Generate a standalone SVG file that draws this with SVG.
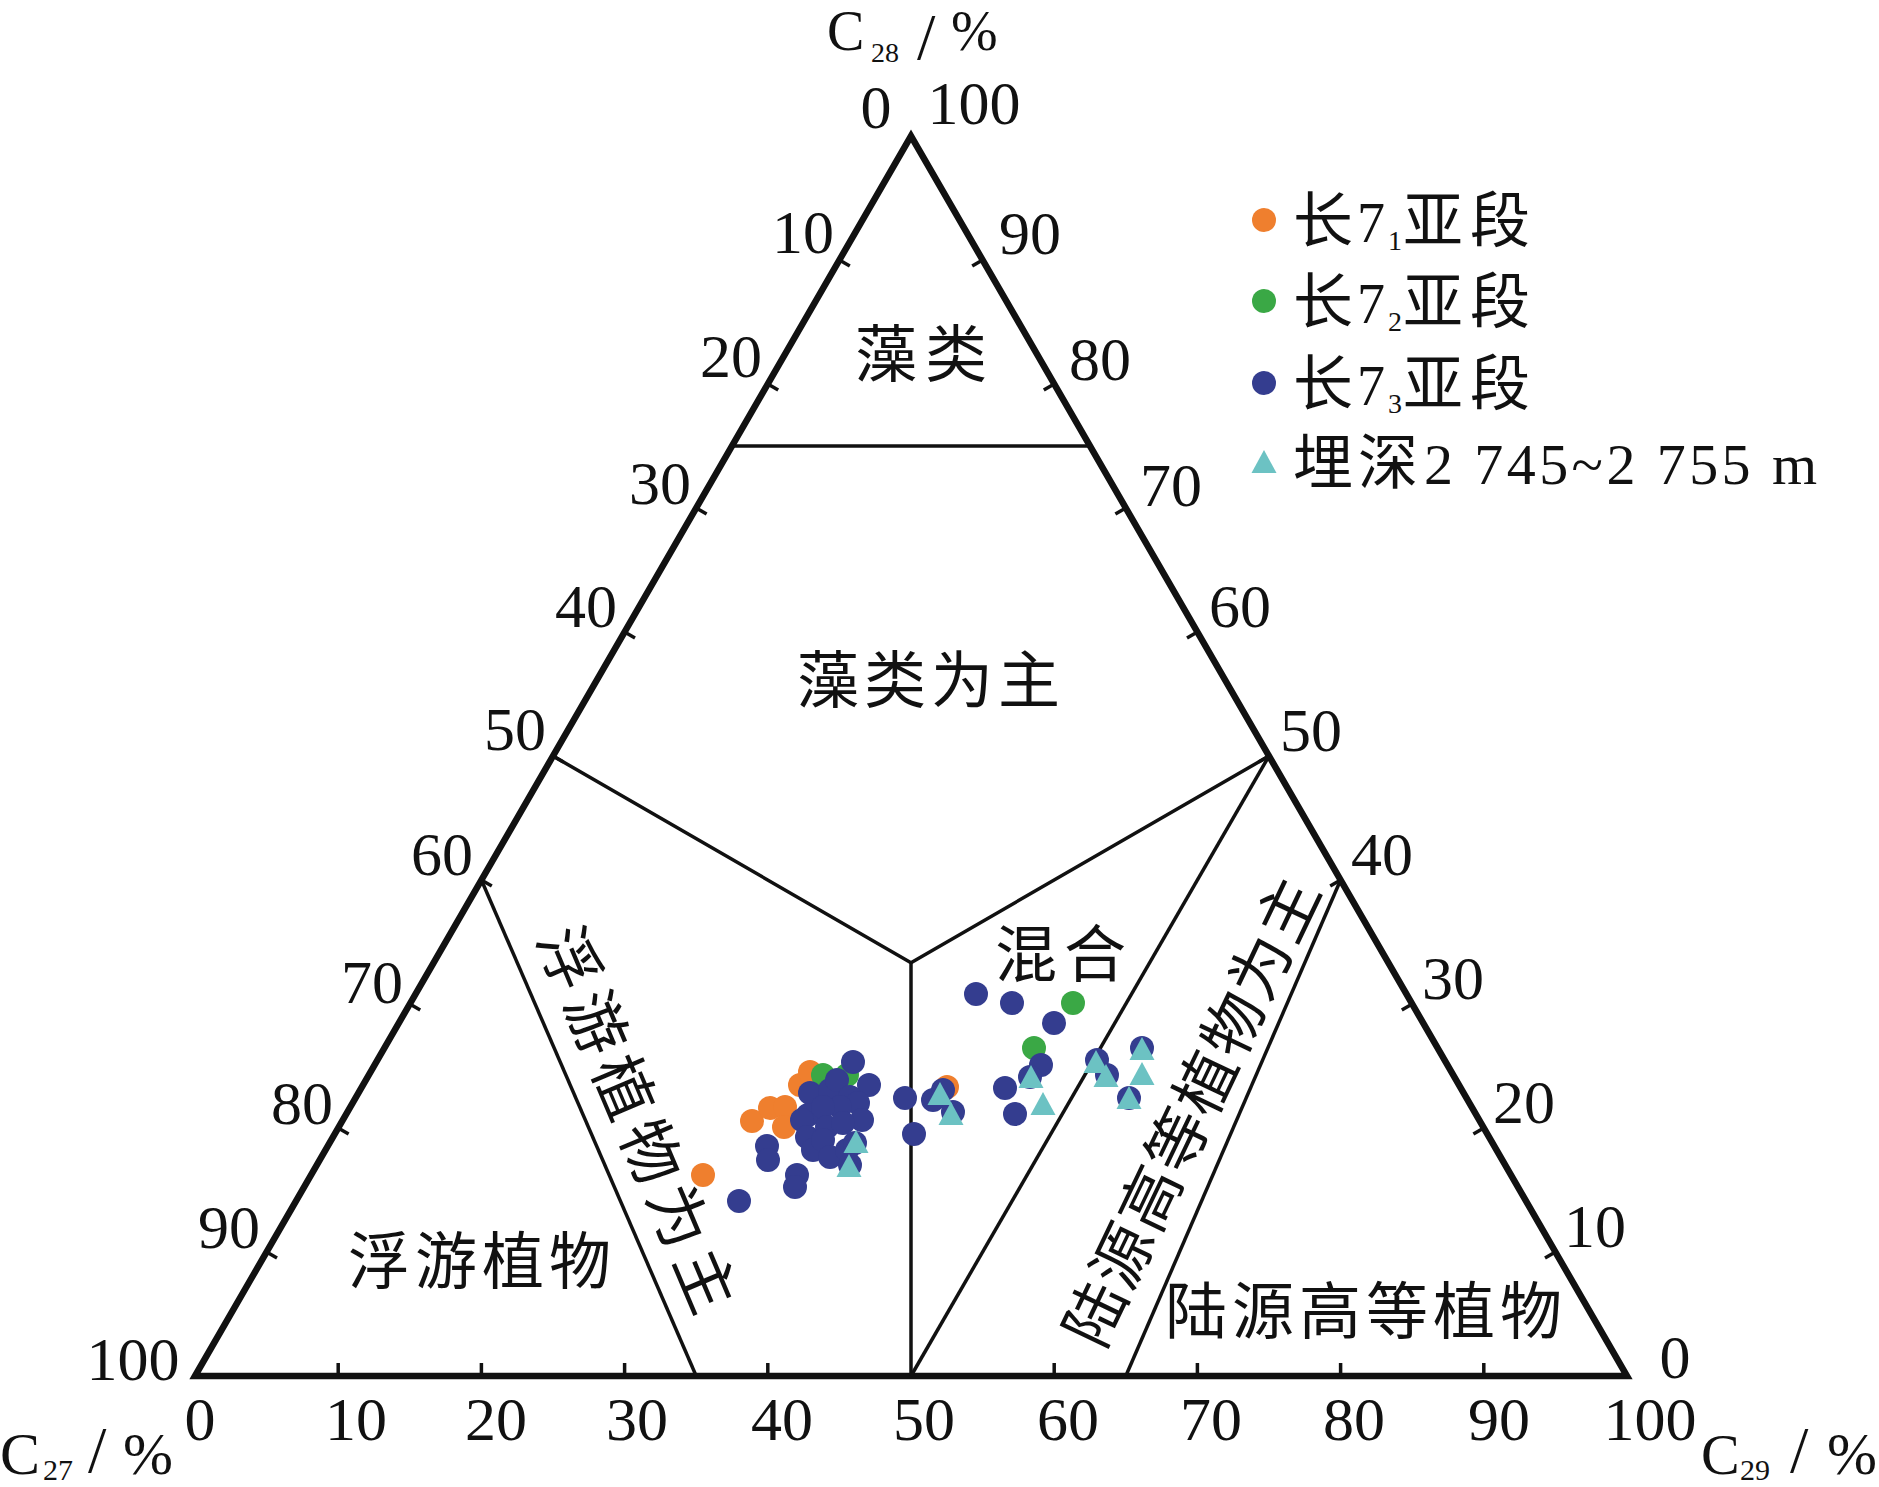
<svg xmlns="http://www.w3.org/2000/svg" width="1879" height="1487" viewBox="0 0 1879 1487">
<style>
.bg{fill:#ffffff}
.outer{fill:none;stroke:#111;stroke-width:6.5;stroke-linejoin:miter}
.inner{fill:none;stroke:#111;stroke-width:3.5}
.tick{stroke:#111;stroke-width:3.5}
.num{font-family:"Liberation Serif","Times New Roman",serif;font-size:62px;fill:#111;text-anchor:middle}
.ser{font-family:"Liberation Serif","Times New Roman",serif;fill:#111}
.cn{font-family:"Liberation Serif","Noto Sans CJK SC",sans-serif;font-size:62px;fill:#111;text-anchor:middle;dominant-baseline:central}
.cnl{font-family:"Liberation Serif","Noto Sans CJK SC",sans-serif;font-size:60px;fill:#111}
.o{fill:#ef7f2e}
.g{fill:#3aa845}
.b{fill:#343d8f}
.c{fill:#6cc2c3}
</style>
<defs>
<path id="tri" d="M0,-13 L12.5,10 L-12.5,10 Z"/>
</defs>
<rect class="bg" x="0" y="0" width="1879" height="1487"/>

<g id="frame">
<path class="outer" d="M195,1376 L911,136 L1627,1376 Z"/>
<g id="ticks">
<line class="tick" x1="839.4" y1="260" x2="849.8" y2="266"/>
<line class="tick" x1="767.8" y1="384" x2="778.2" y2="390"/>
<line class="tick" x1="696.2" y1="508" x2="706.6" y2="514"/>
<line class="tick" x1="624.6" y1="632" x2="635" y2="638"/>
<line class="tick" x1="553" y1="756" x2="563.4" y2="762"/>
<line class="tick" x1="481.4" y1="880" x2="491.8" y2="886"/>
<line class="tick" x1="409.8" y1="1004" x2="420.2" y2="1010"/>
<line class="tick" x1="338.2" y1="1128" x2="348.6" y2="1134"/>
<line class="tick" x1="266.6" y1="1252" x2="277" y2="1258"/>
<line class="tick" x1="982.6" y1="260" x2="972.2" y2="266"/>
<line class="tick" x1="1054.2" y1="384" x2="1043.8" y2="390"/>
<line class="tick" x1="1125.8" y1="508" x2="1115.4" y2="514"/>
<line class="tick" x1="1197.4" y1="632" x2="1187" y2="638"/>
<line class="tick" x1="1269" y1="756" x2="1258.6" y2="762"/>
<line class="tick" x1="1340.6" y1="880" x2="1330.2" y2="886"/>
<line class="tick" x1="1412.2" y1="1004" x2="1401.8" y2="1010"/>
<line class="tick" x1="1483.8" y1="1128" x2="1473.4" y2="1134"/>
<line class="tick" x1="1555.4" y1="1252" x2="1545" y2="1258"/>
<line class="tick" x1="338.2" y1="1376" x2="338.2" y2="1363"/>
<line class="tick" x1="481.4" y1="1376" x2="481.4" y2="1363"/>
<line class="tick" x1="624.6" y1="1376" x2="624.6" y2="1363"/>
<line class="tick" x1="767.8" y1="1376" x2="767.8" y2="1363"/>
<line class="tick" x1="1054.2" y1="1376" x2="1054.2" y2="1363"/>
<line class="tick" x1="1197.4" y1="1376" x2="1197.4" y2="1363"/>
<line class="tick" x1="1340.6" y1="1376" x2="1340.6" y2="1363"/>
<line class="tick" x1="1483.8" y1="1376" x2="1483.8" y2="1363"/>
</g>
</g>

<g id="connectors">
<line class="inner" x1="732" y1="446" x2="1090" y2="446"/>
<polyline class="inner" points="553,756 911,962.7 1269,756"/>
<line class="inner" x1="911" y1="962.7" x2="911" y2="1376"/>
<line class="inner" x1="481.4" y1="880" x2="696.2" y2="1376"/>
<line class="inner" x1="911" y1="1376" x2="1269" y2="756"/>
<line class="inner" x1="1340.6" y1="880" x2="1125.8" y2="1376"/>
</g>

<g id="left-axis-labels">
<text class="num" x="876" y="128">0</text>
<text class="num" x="803" y="253">10</text>
<text class="num" x="731" y="377">20</text>
<text class="num" x="660" y="504">30</text>
<text class="num" x="586" y="627">40</text>
<text class="num" x="515" y="750">50</text>
<text class="num" x="442" y="875">60</text>
<text class="num" x="372" y="1003">70</text>
<text class="num" x="302" y="1124">80</text>
<text class="num" x="229" y="1248">90</text>
<text class="num" x="133" y="1380">100</text>
</g>
<g id="right-axis-labels">
<text class="num" x="974" y="124">100</text>
<text class="num" x="1030" y="254">90</text>
<text class="num" x="1100" y="380">80</text>
<text class="num" x="1171" y="506">70</text>
<text class="num" x="1240" y="627">60</text>
<text class="num" x="1311" y="751">50</text>
<text class="num" x="1382" y="875">40</text>
<text class="num" x="1453" y="999">30</text>
<text class="num" x="1524" y="1123">20</text>
<text class="num" x="1595" y="1247">10</text>
<text class="num" x="1675" y="1378">0</text>
</g>
<g id="bottom-axis-labels">
<text class="num" x="200" y="1440">0</text>
<text class="num" x="356" y="1440">10</text>
<text class="num" x="496" y="1440">20</text>
<text class="num" x="637" y="1440">30</text>
<text class="num" x="782" y="1440">40</text>
<text class="num" x="924" y="1440">50</text>
<text class="num" x="1068" y="1440">60</text>
<text class="num" x="1211" y="1440">70</text>
<text class="num" x="1354" y="1440">80</text>
<text class="num" x="1499" y="1440">90</text>
<text class="num" x="1650" y="1440">100</text>
</g>

<g id="title-c28">
<text class="ser" x="827" y="50" font-size="56">C</text>
<text class="ser" x="871" y="62" font-size="28">28</text>
<text class="ser" x="917" y="59" font-size="66">/</text>
<text class="ser" x="951" y="50" font-size="56">%</text>
</g>
<g id="title-c27">
<text class="ser" x="0" y="1474" font-size="60">C</text>
<text class="ser" x="43" y="1480" font-size="30">27</text>
<text class="ser" x="88" y="1472" font-size="66">/</text>
<text class="ser" x="123" y="1474" font-size="60">%</text>
</g>
<g id="title-c29">
<text class="ser" x="1701" y="1474" font-size="58">C</text>
<text class="ser" x="1740" y="1480" font-size="30">29</text>
<text class="ser" x="1790" y="1472" font-size="66">/</text>
<text class="ser" x="1827" y="1474" font-size="60">%</text>
</g>

<g id="region-algae"><text class="cn" x="925" y="356" letter-spacing="8">藻类</text></g>
<g id="region-algae-dominant"><text class="cn" x="931" y="682" letter-spacing="5">藻类为主</text></g>
<g id="region-mixed"><text class="cn" x="1064" y="956" letter-spacing="7">混合</text></g>
<g id="region-plankton"><text class="cn" x="482" y="1263" letter-spacing="5">浮游植物</text></g>
<g id="region-terrestrial"><text class="cn" x="1366" y="1313" letter-spacing="5">陆源高等植物</text></g>
<g id="region-plankton-dominant"><text class="cn" x="4" y="0" letter-spacing="8" transform="translate(636,1120) rotate(67)">浮游植物为主</text></g>
<g id="region-terrestrial-dominant"><text class="cn" x="1" y="0" letter-spacing="2" transform="translate(1193,1112) rotate(-64.5)">陆源高等植物为主</text></g>

<g id="data-orange">
<circle class="o" cx="703" cy="1175" r="12"/>
<circle class="o" cx="752" cy="1121" r="12"/>
<circle class="o" cx="770" cy="1108" r="12"/>
<circle class="o" cx="785" cy="1107" r="12"/>
<circle class="o" cx="784" cy="1127" r="12"/>
<circle class="o" cx="800" cy="1085" r="12"/>
<circle class="o" cx="810" cy="1072" r="12"/>
<circle class="o" cx="947" cy="1087" r="12"/>
</g>
<g id="data-green">
<circle class="g" cx="823" cy="1075" r="12"/>
<circle class="g" cx="847" cy="1075" r="12"/>
<circle class="g" cx="1034" cy="1048" r="12"/>
<circle class="g" cx="1073" cy="1003" r="12"/>
</g>
<g id="data-blue">
<circle class="b" cx="739" cy="1201" r="12"/>
<circle class="b" cx="767" cy="1146" r="12"/>
<circle class="b" cx="768" cy="1160" r="12"/>
<circle class="b" cx="797" cy="1175" r="12"/>
<circle class="b" cx="795" cy="1187" r="12"/>
<circle class="b" cx="853" cy="1062" r="12"/>
<circle class="b" cx="869" cy="1085" r="12"/>
<circle class="b" cx="905" cy="1098" r="12"/>
<circle class="b" cx="914" cy="1134" r="12"/>
<circle class="b" cx="810" cy="1093" r="12"/>
<circle class="b" cx="808" cy="1115" r="12"/>
<circle class="b" cx="802" cy="1120" r="12"/>
<circle class="b" cx="807" cy="1137" r="12"/>
<circle class="b" cx="813" cy="1150" r="12"/>
<circle class="b" cx="830" cy="1090" r="12"/>
<circle class="b" cx="837" cy="1080" r="12"/>
<circle class="b" cx="850" cy="1097" r="12"/>
<circle class="b" cx="858" cy="1103" r="12"/>
<circle class="b" cx="862" cy="1120" r="12"/>
<circle class="b" cx="840" cy="1107" r="12"/>
<circle class="b" cx="823" cy="1107" r="12"/>
<circle class="b" cx="827" cy="1127" r="12"/>
<circle class="b" cx="823" cy="1140" r="12"/>
<circle class="b" cx="830" cy="1157" r="12"/>
<circle class="b" cx="847" cy="1150" r="12"/>
<circle class="b" cx="855" cy="1143" r="12"/>
<circle class="b" cx="850" cy="1165" r="12"/>
<circle class="b" cx="843" cy="1123" r="12"/>
<circle class="b" cx="933" cy="1100" r="12"/>
<circle class="b" cx="943" cy="1090" r="12"/>
<circle class="b" cx="953" cy="1112" r="12"/>
<circle class="b" cx="976" cy="994" r="12"/>
<circle class="b" cx="1012" cy="1003" r="12"/>
<circle class="b" cx="1054" cy="1023" r="12"/>
<circle class="b" cx="1041" cy="1065" r="12"/>
<circle class="b" cx="1030" cy="1077" r="12"/>
<circle class="b" cx="1005" cy="1088" r="12"/>
<circle class="b" cx="1015" cy="1114" r="12"/>
<circle class="b" cx="1097" cy="1060" r="12"/>
<circle class="b" cx="1107" cy="1075" r="12"/>
<circle class="b" cx="1142" cy="1048" r="12"/>
<circle class="b" cx="1129" cy="1098" r="12"/>
</g>
<g id="data-cyan">
<use href="#tri" class="c" x="856" y="1143"/>
<use href="#tri" class="c" x="849" y="1167"/>
<use href="#tri" class="c" x="940" y="1095"/>
<use href="#tri" class="c" x="951" y="1115"/>
<use href="#tri" class="c" x="1031" y="1078"/>
<use href="#tri" class="c" x="1043" y="1105"/>
<use href="#tri" class="c" x="1096" y="1063"/>
<use href="#tri" class="c" x="1106" y="1077"/>
<use href="#tri" class="c" x="1142" y="1050"/>
<use href="#tri" class="c" x="1142" y="1075"/>
<use href="#tri" class="c" x="1129" y="1099"/>
</g>

<g id="legend">
<g id="legend-1">
<circle class="o" cx="1264" cy="220" r="12"/>
<text class="cnl" x="1293" y="242">长</text>
<text class="ser" x="1357" y="242" font-size="56">7</text>
<text class="ser" x="1388" y="250" font-size="28">1</text>
<text class="cnl" x="1403" y="242">亚</text>
<text class="cnl" x="1470" y="242">段</text>
</g>
<g id="legend-2">
<circle class="g" cx="1264" cy="301" r="12"/>
<text class="cnl" x="1293" y="323">长</text>
<text class="ser" x="1357" y="323" font-size="56">7</text>
<text class="ser" x="1388" y="331" font-size="28">2</text>
<text class="cnl" x="1403" y="323">亚</text>
<text class="cnl" x="1470" y="323">段</text>
</g>
<g id="legend-3">
<circle class="b" cx="1264" cy="383" r="12"/>
<text class="cnl" x="1293" y="405">长</text>
<text class="ser" x="1357" y="405" font-size="56">7</text>
<text class="ser" x="1388" y="413" font-size="28">3</text>
<text class="cnl" x="1403" y="405">亚</text>
<text class="cnl" x="1470" y="405">段</text>
</g>
<g id="legend-4">
<use href="#tri" class="c" x="1264" y="463"/>
<text class="cnl" x="1293" y="484">埋</text>
<text class="cnl" x="1358" y="484">深</text>
<text class="ser" x="1424" y="484" font-size="58" textLength="393" lengthAdjust="spacing">2 745~2 755 m</text>
</g>
</g>
</svg>
